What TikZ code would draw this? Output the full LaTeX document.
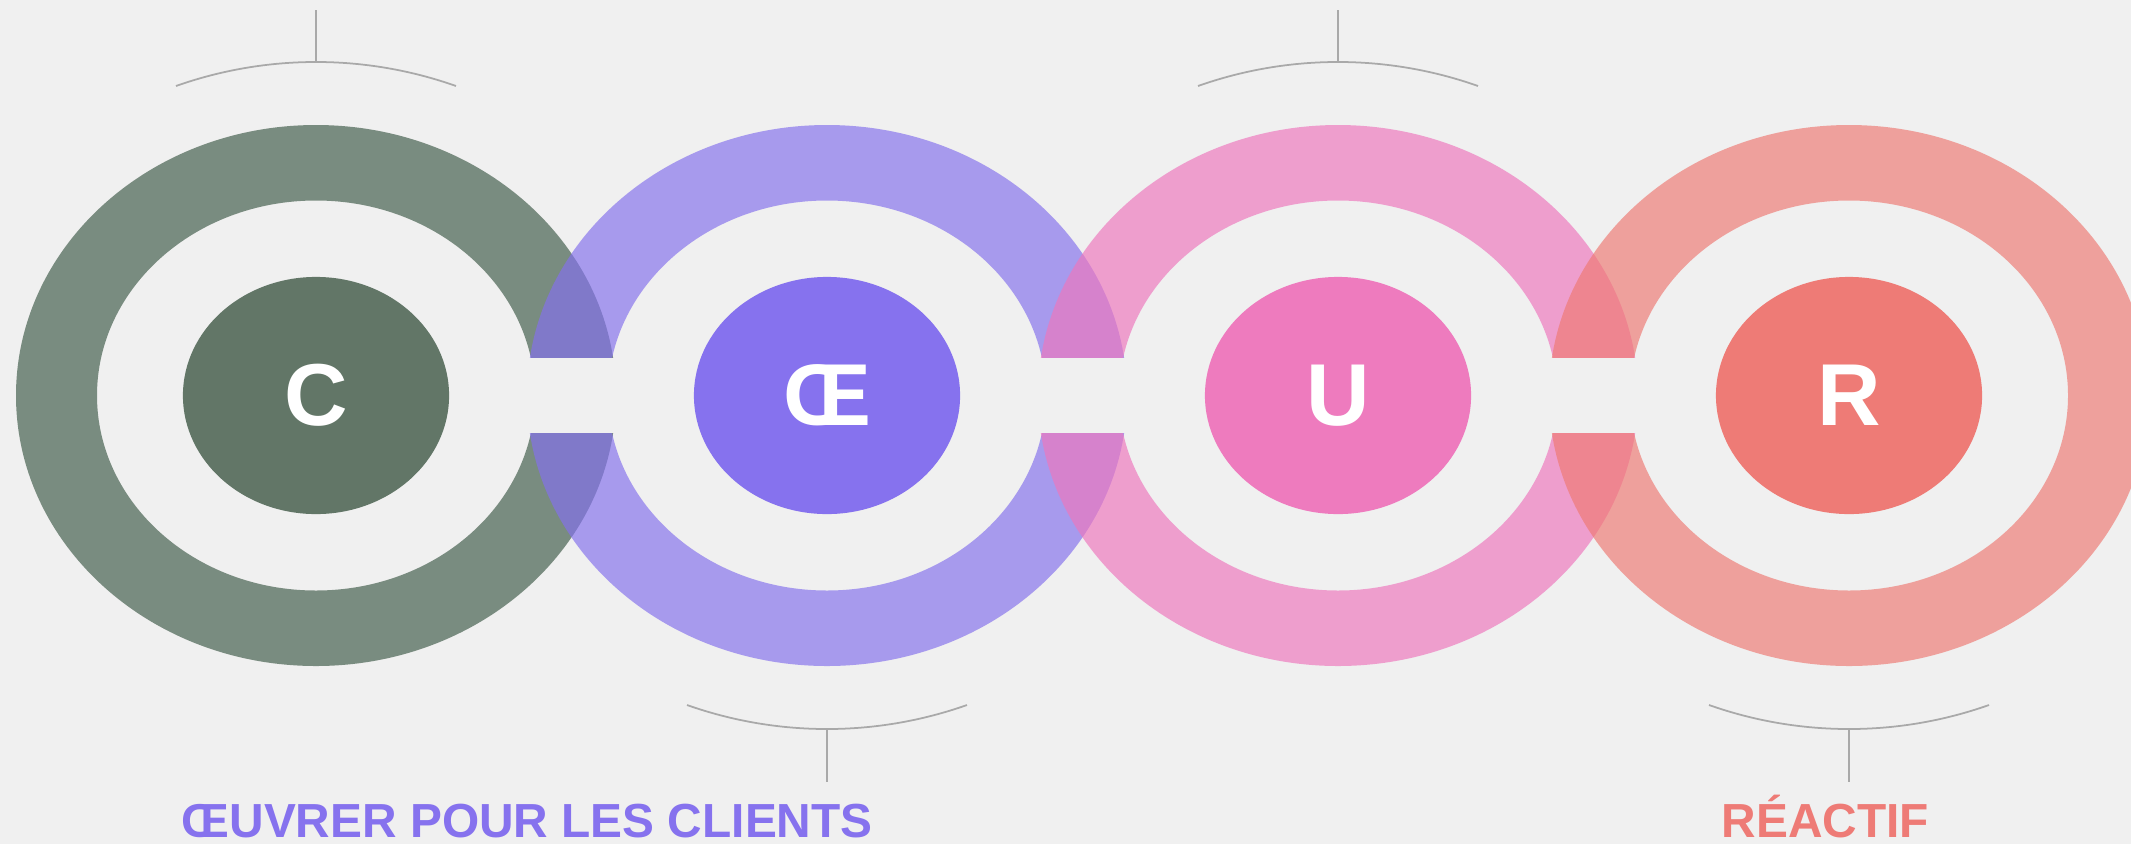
\documentclass[tikz,border=0pt]{standalone}
\usepackage{fontspec}
\setmainfont{Liberation Sans}
\usetikzlibrary{shapes.geometric}

\definecolor{bggray}{HTML}{F0F0F0}
\definecolor{ringgreen}{HTML}{405B49}
\definecolor{coregreen}{HTML}{627667}
\definecolor{ringpurple}{HTML}{8470ED}
\definecolor{corepurple}{HTML}{8672EE}
\definecolor{ringpink}{HTML}{EE77BD}
\definecolor{corepink}{HTML}{EE7BBE}
\definecolor{ringsalmon}{HTML}{EE7A73}
\definecolor{coresalmon}{HTML}{EE7B76}
\definecolor{bracketgray}{HTML}{A9A9A9}

\begin{document}
\begin{tikzpicture}[x=0.01cm, y=0.01cm,
  ring/.style={even odd rule, fill opacity=0.67},
  core/.style={ellipse, minimum width=2.66cm, minimum height=2.37cm, inner sep=0pt, text=white, font={\fontsize{25}{30}\selectfont\bfseries}},
  bracket/.style={draw=bracketgray, line width=0.5pt},
  caption/.style={anchor=base west, inner sep=0pt, font={\fontsize{13.6}{16}\selectfont\bfseries}}]

\fill[bggray] (0,0) rectangle (2131,844);
\useasboundingbox (0,0) rectangle (2131,844);

% rings
\fill[ring, ringgreen] (316,448.5) ellipse [x radius=300, y radius=270.5] (316,448.5) ellipse [x radius=219, y radius=195];
\fill[ring, ringpurple] (827,448.5) ellipse [x radius=300, y radius=270.5] (827,448.5) ellipse [x radius=219, y radius=195];
\fill[ring, ringpink] (1338,448.5) ellipse [x radius=300, y radius=270.5] (1338,448.5) ellipse [x radius=219, y radius=195];
\fill[ring, ringsalmon] (1849,448.5) ellipse [x radius=300, y radius=270.5] (1849,448.5) ellipse [x radius=219, y radius=195];

% gaps between the rings
\fill[bggray] (486,411) rectangle (657,486);
\fill[bggray] (997,411) rectangle (1168,486);
\fill[bggray] (1508,411) rectangle (1679,486);

\node[core, fill=coregreen] (c) at (316,448.5) {C};
\node[core, fill=corepurple] (oe) at (827,448.5) {Œ};
\node[core, fill=corepink] (u) at (1338,448.5) {U};
\node[core, fill=coresalmon] (r) at (1849,448.5) {R};

% brackets
\coordinate (top1) at (316,782);
\coordinate (top3) at (1338,782);
\coordinate (bot2) at (827,114);
\coordinate (bot4) at (1849,114);

\draw[bracket] (top1) -- ++(0,52);
\draw[bracket] (176,758) arc [start angle=109.47, end angle=70.53, radius=420];
\draw[bracket] (top3) -- ++(0,52);
\draw[bracket] (1198,758) arc [start angle=109.47, end angle=70.53, radius=420];

\draw[bracket] (bot2) -- ++(0,-52);
\draw[bracket] (687,139) arc [start angle=250.53, end angle=289.47, radius=420];
\draw[bracket] (bot4) -- ++(0,-52);
\draw[bracket] (1709,139) arc [start angle=250.53, end angle=289.47, radius=420];

\node[caption, text=corepurple] (clients) at (181,7) {ŒUVRER POUR LES CLIENTS};
\node[caption, text=coresalmon] (reactif) at (1721,7) {RÉACTIF};

\end{tikzpicture}
\end{document}
